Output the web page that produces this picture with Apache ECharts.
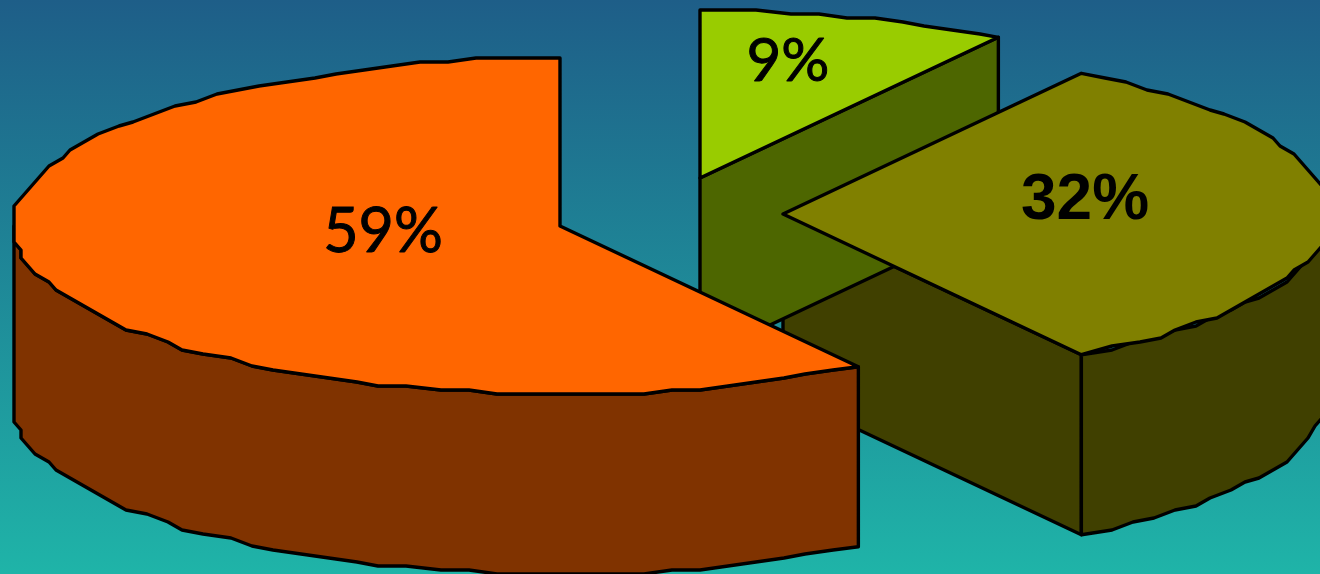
<!DOCTYPE html>
<html><head><meta charset="utf-8">
<style>html,body{margin:0;padding:0;background:#1f6b8c}#c{width:1320px;height:574px}</style>
<script src="https://cdn.jsdelivr.net/npm/echarts@6/dist/echarts.min.js"></script>
</head><body><div id="c"></div>
<script>
const categories = ['A', 'B', 'C'];
const values = [9, 32, 59];

const topColors = ['#99CC00', '#808000', '#FF6600'];
const sideColors = ['#4D6600', '#404000', '#803300'];
const apexes = [[700, 178], [783, 214], [560, 226]];
const labelOffsets = [[88, -116], [302, -13], [-177, 6]];
const labelFonts = ['60px Lato', 'bold 64px "Liberation Sans"', '61px Lato'];
const labelStrokes = [1, 0, 1];
const sideLayers = [2, 1, 5];
const topLayers = [3, 4, 6];
const RX = 546, RY = 168, DEPTH = 180, STEP = 3, GX = 7, GY = 4, WARP = 0.8;

const total = values.reduce((a, b) => a + b, 0);
const rad = d => d * Math.PI / 180;
function pt(c, deg, exact) {
  const t = deg + WARP * Math.sin(rad(2 * deg)); // slight perspective skew of the tilted disc
  let dx = RX * Math.sin(rad(t));
  let dy = -RY * Math.cos(rad(t));
  if (!exact) { dx = Math.round(dx / GX) * GX; dy = Math.round(dy / GY) * GY; }
  return [c[0] + dx, c[1] + dy];
}
function arc(c, a, b) {
  const out = [pt(c, a, true)];
  for (let d = a + STEP; d < b - STEP / 2; d += STEP) out.push(pt(c, d, false));
  out.push(pt(c, b, true));
  return out;
}
function poly(points, fill, z) {
  return { type: 'polygon', shape: { points }, style: { fill, stroke: '#000', lineWidth: 3.4, lineJoin: 'round' }, z2: z };
}

function renderItem(params, api) {
  const i = params.dataIndex;
  const v = api.value(0);
  let a = 0;
  for (let k = 0; k < i; k++) a += values[k] / total * 360;
  const b = a + v / total * 360;
  const c = apexes[i];
  const down = p => [p[0], p[1] + DEPTH];
  const children = [];

  const wall = t => {
    const e = pt(c, t, true);
    children.push(poly([c, e, down(e), down(c)], sideColors[i], sideLayers[i]));
  };
  if (b > 0 && b < 180) wall(b);
  if (a > 180 && a < 360) wall(a);

  const ra = Math.max(a, 90), rb = Math.min(b, 270);
  if (rb > ra) {
    const top = arc(c, ra, rb);
    children.push(poly(top.concat(top.slice().reverse().map(down)), sideColors[i], sideLayers[i]));
  }

  children.push(poly([c].concat(arc(c, a, b)), topColors[i], topLayers[i]));

  const off = labelOffsets[i];
  children.push({
    type: 'text', z2: 10,
    style: {
      text: v + '%', x: c[0] + off[0], y: c[1] + off[1],
      font: labelFonts[i], fill: '#000', align: 'center', verticalAlign: 'middle',
      stroke: labelStrokes[i] ? '#000' : null, lineWidth: labelStrokes[i]
    }
  });
  return { type: 'group', children };
}

const chart = echarts.init(document.getElementById('c'), null, { renderer: 'canvas' });
chart.setOption({
  animation: false,
  backgroundColor: {
    type: 'linear', x: 0, y: 0, x2: 0, y2: 1,
    colorStops: [{ offset: 0, color: '#1E5E88' }, { offset: 1, color: '#1FB4A8' }]
  },
  series: [{
    type: 'custom',
    coordinateSystem: 'none',
    renderItem,
    silent: true,
    clip: false,
    data: values.map((v, i) => ({ name: categories[i], value: [v] }))
  }]
});
</script></body></html>
